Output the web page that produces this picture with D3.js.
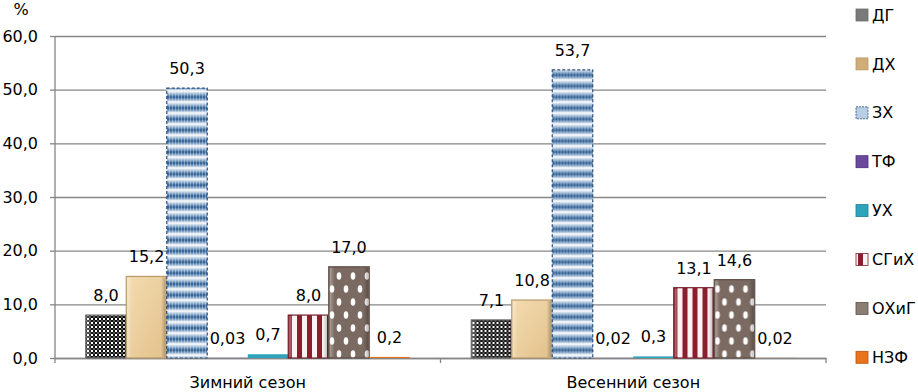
<!DOCTYPE html>
<html>
<head>
<meta charset="utf-8">
<script src="https://cdn.jsdelivr.net/npm/d3@7"></script>
<style>
  body { margin: 0; background: #fff; }
  text { font-family: "DejaVu Sans", sans-serif; font-size: 16px; fill: #000; }
  .axis path, .axis line { stroke: #868686; stroke-width: 1.3; }
</style>
</head>
<body>
<div id="chart"></div>
<script>
// данные
var categories = ["Зимний сезон", "Весенний сезон"];
var series = ["ДГ", "ДХ", "ЗХ", "ТФ", "УХ", "СГиХ", "ОХиГ", "НЗФ"];
var winterValues = [8.0, 15.2, 50.3, 0.03, 0.7, 8.0, 17.0, 0.2];
var springValues = [7.1, 10.8, 53.7, 0.02, 0.3, 13.1, 14.6, 0.02];
var yTicks = [0, 10, 20, 30, 40, 50, 60];

var seasonValues = [winterValues, springValues];

var W = 918, H = 392;
var margin = {top: 36, right: 92, bottom: 34, left: 55};
var width = W - margin.left - margin.right;
var height = H - margin.top - margin.bottom;

var svg = d3.select("#chart").append("svg")
    .attr("width", W)
    .attr("height", H);

// узоры для столбиков
var defs = svg.append("defs");

var p1 = defs.append("pattern").attr("id", "pDG")
    .attr("patternUnits", "userSpaceOnUse").attr("width", 4).attr("height", 4);
p1.append("rect").attr("width", 4).attr("height", 4).attr("fill", "#fff");
p1.append("rect").attr("width", 2).attr("height", 2).attr("fill", "#111");
p1.append("rect").attr("x", 2).attr("y", 2).attr("width", 2).attr("height", 2).attr("fill", "#111");
p1.append("rect").attr("x", 2).attr("y", 0).attr("width", 2).attr("height", 2).attr("fill", "#555");

var gDX = defs.append("linearGradient").attr("id", "gDX").attr("x1", 0).attr("y1", 0).attr("x2", 1).attr("y2", 1);
gDX.append("stop").attr("offset", "0%").attr("stop-color", "#f3dcb0");
gDX.append("stop").attr("offset", "100%").attr("stop-color", "#e2c18c");

var gZX = defs.append("linearGradient").attr("id", "gZX").attr("x1", 0).attr("y1", 0).attr("x2", 0).attr("y2", 1);
gZX.append("stop").attr("offset", "0%").attr("stop-color", "#ffffff");
gZX.append("stop").attr("offset", "30%").attr("stop-color", "#8eaccd");
gZX.append("stop").attr("offset", "55%").attr("stop-color", "#285a8e");
gZX.append("stop").attr("offset", "80%").attr("stop-color", "#8eaccd");
gZX.append("stop").attr("offset", "100%").attr("stop-color", "#ffffff");
var p3 = defs.append("pattern").attr("id", "pZX")
    .attr("patternUnits", "userSpaceOnUse").attr("width", 3).attr("height", 11);
p3.append("rect").attr("width", 3).attr("height", 11).attr("fill", "url(#gZX)");
p3.append("rect").attr("width", 1).attr("height", 11).attr("fill", "#fff").attr("opacity", 0.3);

var p6 = defs.append("pattern").attr("id", "pSG")
    .attr("patternUnits", "userSpaceOnUse").attr("width", 10).attr("height", 10);
p6.append("rect").attr("width", 10).attr("height", 10).attr("fill", "#fbf3f3");
p6.append("rect").attr("x", 2).attr("width", 5).attr("height", 10).attr("fill", "#8c1d2c");

var p7 = defs.append("pattern").attr("id", "pOX")
    .attr("patternUnits", "userSpaceOnUse").attr("width", 14).attr("height", 26);
p7.append("rect").attr("width", 14).attr("height", 26).attr("fill", "#7b6a61");
p7.append("ellipse").attr("cx", 4).attr("cy", 6).attr("rx", 2.3).attr("ry", 3.8).attr("fill", "#fff");
p7.append("ellipse").attr("cx", 11).attr("cy", 19).attr("rx", 2.3).attr("ry", 3.8).attr("fill", "#fff");

var bevel = defs.append("linearGradient").attr("id", "bevel").attr("x1", 0).attr("y1", 0).attr("x2", 1).attr("y2", 0);
bevel.append("stop").attr("offset", "0%").attr("stop-color", "#fff").attr("stop-opacity", 0.35);
bevel.append("stop").attr("offset", "12%").attr("stop-color", "#fff").attr("stop-opacity", 0);
bevel.append("stop").attr("offset", "88%").attr("stop-color", "#000").attr("stop-opacity", 0);
bevel.append("stop").attr("offset", "100%").attr("stop-color", "#000").attr("stop-opacity", 0.25);

var fills = {
  "ДГ": "url(#pDG)", "ДХ": "url(#gDX)", "ЗХ": "url(#pZX)", "ТФ": "#6b4a9e",
  "УХ": "#2fa3bb", "СГиХ": "url(#pSG)", "ОХиГ": "url(#pOX)", "НЗФ": "#e8731a"
};
var strokes = {
  "ДГ": "#6d6d6d", "ДХ": "#b8996a", "ЗХ": "#2c4f7c", "ТФ": "#4b2f78",
  "УХ": "#1d7f93", "СГиХ": "#7a2030", "ОХиГ": "#5e5048", "НЗФ": "#b3560f"
};
var legendFills = {
  "ДГ": "#7a7a7a", "ДХ": "#cfad78", "ЗХ": "#b9cde4", "ТФ": "#6b4a9e",
  "УХ": "#2fa3bb", "СГиХ": "url(#pSG)", "ОХиГ": "#8a7d74", "НЗФ": "#e8731a"
};

var g = svg.append("g")
    .attr("transform", "translate(" + margin.left + "," + margin.top + ")");

var x0 = d3.scaleBand().domain(categories).range([0, width]);
var x1 = d3.scaleBand().domain(series).range([0, x0.bandwidth()])
    .paddingInner(0).paddingOuter(0.76);
var y = d3.scaleLinear().domain([0, 60]).range([height, 0]);

// подписи значений: десятичная запятая
var fmt = function(v) {
  var s = v < 0.1 ? d3.format(".2f")(v) : d3.format(".1f")(v);
  return s.replace(".", ",");
};
var fmtTick = function(v) { return d3.format(".1f")(v).replace(".", ","); };

// сетка
g.append("g").attr("class", "axis grid")
    .call(d3.axisLeft(y).tickValues(yTicks).tickSize(-width).tickFormat(""))
    .call(function(s) { s.select(".domain").remove(); });

// ось Y
g.append("g").attr("class", "axis")
    .call(d3.axisLeft(y).tickValues(yTicks).tickSize(5).tickPadding(12).tickFormat(fmtTick))
    .call(function(s) { s.select(".domain").attr("d", "M0," + height + "V0"); });

// ось X
var xAxis = g.append("g").attr("class", "axis")
    .attr("transform", "translate(0," + height + ")")
    .call(d3.axisBottom(x0).tickSize(0).tickPadding(19).tickSizeOuter(0));
xAxis.selectAll(".tick text").attr("dy", "0.71em");
xAxis.selectAll(".bound")
    .data(categories.map(function(c) { return x0(c); }).concat([width]))
    .enter().append("line").attr("class", "bound")
    .attr("x1", function(d) { return d; }).attr("x2", function(d) { return d; })
    .attr("y1", 0).attr("y2", 5)
    .attr("stroke", "#868686").attr("stroke-width", 1.3);

// столбики
var groups = g.selectAll(".season")
    .data(categories).enter().append("g")
    .attr("class", "season")
    .attr("transform", function(c) { return "translate(" + x0(c) + ",0)"; });

var bars = groups.selectAll(".bar")
    .data(function(c, i) {
      return series.map(function(s, j) { return {s: s, v: seasonValues[i][j]}; });
    })
    .enter();

bars.append("rect")
    .attr("x", function(d) { return x1(d.s); })
    .attr("y", function(d) { return y(d.v); })
    .attr("width", x1.bandwidth())
    .attr("height", function(d) { return height - y(d.v); })
    .attr("fill", function(d) { return fills[d.s]; })
    .attr("stroke", function(d) { return d.v < 1 ? "none" : strokes[d.s]; })
    .attr("stroke-width", 1.2)
    .attr("stroke-dasharray", function(d) { return d.s === "ЗХ" ? "3,2" : null; });

bars.filter(function(d) { return d.v >= 1 && d.s !== "ЗХ"; }).append("rect")
    .attr("x", function(d) { return x1(d.s) + 1; })
    .attr("y", function(d) { return y(d.v) + 1; })
    .attr("width", x1.bandwidth() - 2)
    .attr("height", function(d) { return height - y(d.v) - 2; })
    .attr("fill", "url(#bevel)");

bars.append("text")
    .attr("x", function(d) { return x1(d.s) + x1.bandwidth() / 2; })
    .attr("y", function(d) { return y(d.v) - 14; })
    .attr("text-anchor", "middle")
    .text(function(d) { return fmt(d.v); });

// подпись %
svg.append("text").attr("x", 21).attr("y", 15).attr("text-anchor", "middle").text("%");

// легенда
var legend = svg.selectAll(".legend")
    .data(series).enter().append("g")
    .attr("class", "legend")
    .attr("transform", function(d, i) { return "translate(856," + (15 + i * 48.9) + ")"; });
legend.append("rect")
    .attr("x", 0).attr("y", -6).attr("width", 12).attr("height", 12)
    .attr("fill", function(d) { return legendFills[d]; })
    .attr("stroke", function(d) { return strokes[d]; })
    .attr("stroke-width", 0.8)
    .attr("stroke-dasharray", function(d) { return d === "ЗХ" ? "2,1" : null; });
legend.append("text")
    .attr("x", 16).attr("y", 0).attr("dy", "0.35em")
    .text(function(d) { return d; });
</script>
</body>
</html>
